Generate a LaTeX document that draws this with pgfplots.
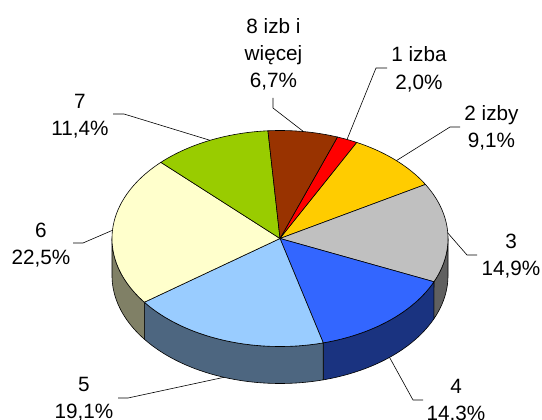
\documentclass[border=0pt]{standalone}
\usepackage{pgfplots}
\pgfplotsset{compat=1.18}
\usepgfplotslibrary{fillbetween}
\usepackage{fontspec}
\setmainfont{Liberation Sans}
\definecolor{cA}{HTML}{FF0000}
\definecolor{cB}{HTML}{FFCC00}
\definecolor{cC}{HTML}{C0C0C0}
\definecolor{cD}{HTML}{3366FF}
\definecolor{cE}{HTML}{99CCFF}
\definecolor{cF}{HTML}{FFFFCC}
\definecolor{cG}{HTML}{99CC00}
\definecolor{cH}{HTML}{993300}
\definecolor{sC}{HTML}{606060}
\definecolor{sD}{HTML}{1A3380}
\definecolor{sE}{HTML}{4D6680}
\definecolor{sF}{HTML}{808066}
% shares (%): 1 izba, 2 izby, 3, 4, 5, 6, 7, 8 izb i wiecej
\def\pA{2.0}\def\pB{9.1}\def\pC{14.9}\def\pD{14.3}
\def\pE{19.1}\def\pF{22.5}\def\pG{11.4}\def\pH{6.7}
\pgfmathsetmacro\aA{20}
\pgfmathsetmacro\aB{\aA+3.6*\pA}
\pgfmathsetmacro\aC{\aB+3.6*\pB}
\pgfmathsetmacro\aD{\aC+3.6*\pC}
\pgfmathsetmacro\aE{\aD+3.6*\pD}
\pgfmathsetmacro\aF{\aE+3.6*\pE}
\pgfmathsetmacro\aG{\aF+3.6*\pF}
\pgfmathsetmacro\aH{\aG+3.6*\pG}
\pgfmathsetmacro\aI{\aH+3.6*\pH}
\pgfmathsetmacro\xD{280+168*sin(\aD)}
\pgfmathsetmacro\xE{280+168*sin(\aE)}
\pgfmathsetmacro\xF{280+168*sin(\aF)}
\newcommand\lab[3]{\node[anchor=base, inner sep=0pt, font=\fontsize{20.7bp}{25bp}\selectfont] at (axis cs:#1,#2) {#3};}
\begin{document}
\begin{tikzpicture}
\begin{axis}[at={(0,0)}, anchor=south west, scale only axis,
  width=542bp, height=420bp, xmin=0, xmax=542, ymin=0, ymax=420,
  hide axis, clip=false]
% side walls
\addplot[name path=T, draw=none, domain=90:270, samples=361] ({280+168*sin(x)},{181.5+108*cos(x)});
\addplot[name path=B, draw=none, domain=90:270, samples=361] ({280+168*sin(x)},{144.5+108*cos(x)});
\addplot[fill=sC, draw=black, line width=0.6bp] fill between[of=T and B, soft clip={domain=\xD:448}];
\addplot[fill=sD, draw=black, line width=0.6bp] fill between[of=T and B, soft clip={domain=\xE:\xD}];
\addplot[fill=sE, draw=black, line width=0.6bp] fill between[of=T and B, soft clip={domain=\xF:\xE}];
\addplot[fill=sF, draw=black, line width=0.6bp] fill between[of=T and B, soft clip={domain=112:\xF}];
% top faces
\addplot[fill=cA, draw=black, line width=0.6bp, domain=\aA:\aB, samples=10] ({280+168*sin(x)},{181.5+108*cos(x)}) -- (axis cs:280,181.5) -- cycle;
\addplot[fill=cB, draw=black, line width=0.6bp, domain=\aB:\aC, samples=40] ({280+168*sin(x)},{181.5+108*cos(x)}) -- (axis cs:280,181.5) -- cycle;
\addplot[fill=cC, draw=black, line width=0.6bp, domain=\aC:\aD, samples=60] ({280+168*sin(x)},{181.5+108*cos(x)}) -- (axis cs:280,181.5) -- cycle;
\addplot[fill=cD, draw=black, line width=0.6bp, domain=\aD:\aE, samples=60] ({280+168*sin(x)},{181.5+108*cos(x)}) -- (axis cs:280,181.5) -- cycle;
\addplot[fill=cE, draw=black, line width=0.6bp, domain=\aE:\aF, samples=70] ({280+168*sin(x)},{181.5+108*cos(x)}) -- (axis cs:280,181.5) -- cycle;
\addplot[fill=cF, draw=black, line width=0.6bp, domain=\aF:\aG, samples=80] ({280+168*sin(x)},{181.5+108*cos(x)}) -- (axis cs:280,181.5) -- cycle;
\addplot[fill=cG, draw=black, line width=0.6bp, domain=\aG:\aH, samples=40] ({280+168*sin(x)},{181.5+108*cos(x)}) -- (axis cs:280,181.5) -- cycle;
\addplot[fill=cH, draw=black, line width=0.6bp, domain=\aH:\aI, samples=30] ({280+168*sin(x)},{181.5+108*cos(x)}) -- (axis cs:280,181.5) -- cycle;
% leader lines
\addplot[black, line width=0.6bp] coordinates {(273,322) (273,312) (303.4,288.5)};
\addplot[black, line width=0.6bp] coordinates {(387,352) (376,352) (347,280.5)};
\addplot[black, line width=0.6bp] coordinates {(460,293) (450,293) (396.6,259.5)};
\addplot[black, line width=0.6bp] coordinates {(447.8,187) (467,165) (477,165)};
\addplot[black, line width=0.6bp] coordinates {(389.6,62.5) (413,20) (423,20)};
\addplot[black, line width=0.6bp] coordinates {(224,42.7) (128,22) (118,22)};
\addplot[black, line width=0.6bp] coordinates {(112.5,189.7) (83,177) (73,177)};
\addplot[black, line width=0.6bp] coordinates {(210,279.7) (124,306) (113,306)};
% labels
\lab{273.5}{387}{8 izb i}
\lab{273.5}{360}{więcej}
\lab{273.5}{333}{6,7\%}
\lab{419}{359}{1 izba}
\lab{419}{331}{2,0\%}
\lab{491.5}{300}{2 izby}
\lab{491.5}{273}{9,1\%}
\lab{511}{172}{3}
\lab{511}{145}{14,9\%}
\lab{456}{27}{4}
\lab{456}{0}{14,3\%}
\lab{84}{29}{5}
\lab{84}{2}{19,1\%}
\lab{41}{183}{6}
\lab{41}{156}{22,5\%}
\lab{80}{312}{7}
\lab{80}{285}{11,4\%}
\end{axis}
\pgfresetboundingbox
\path[use as bounding box] (0,0) rectangle (542bp,420bp);
\end{tikzpicture}
\end{document}
